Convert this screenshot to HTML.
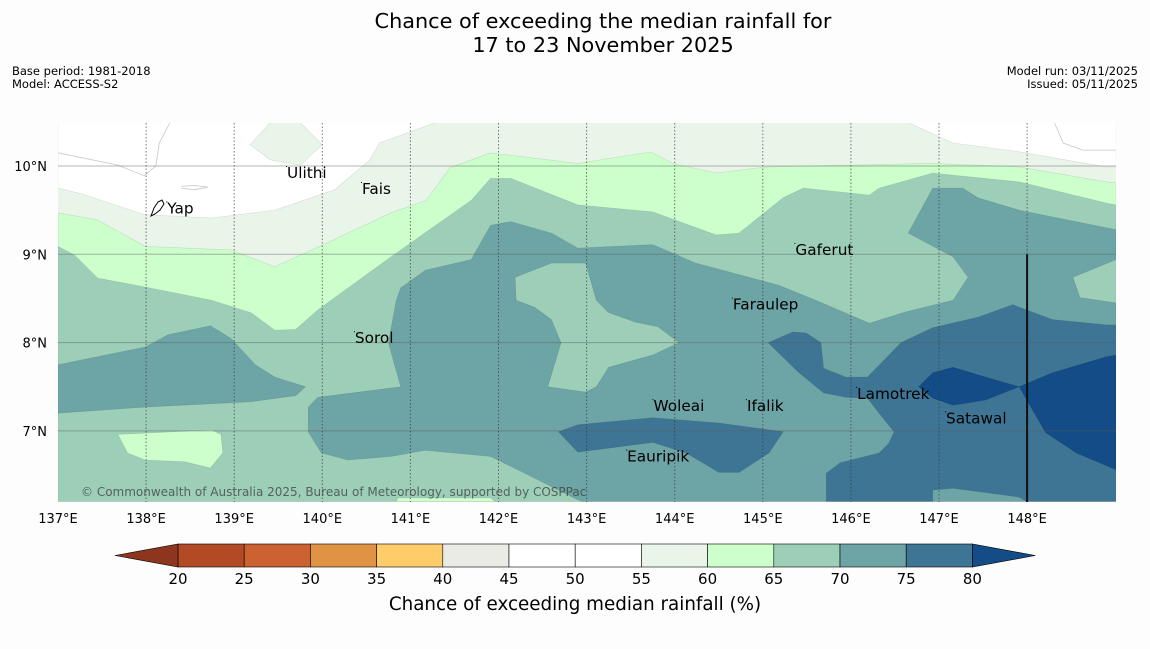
<!DOCTYPE html>
<html><head><meta charset="utf-8">
<style>
html,body{margin:0;padding:0;background:#fdfdfd;}
body{width:1150px;height:644px;overflow:hidden;font-family:"Liberation Sans","DejaVu Sans",sans-serif;}
svg text{font-family:"DejaVu Sans","Liberation Sans",sans-serif;}
</style></head>
<body>
<svg id="chart" width="1150" height="644" xmlns="http://www.w3.org/2000/svg">
<rect x="0" y="0" width="1150" height="644" fill="#fdfdfd"/>
<text x="603" y="28" font-size="20.8" text-anchor="middle" fill="#000">Chance of exceeding the median rainfall for</text>
<text x="603" y="52" font-size="20.8" text-anchor="middle" fill="#000">17 to 23 November 2025</text>
<text x="12" y="75" font-size="11.5">Base period: 1981-2018</text>
<text x="12" y="88" font-size="11.5">Model: ACCESS-S2</text>
<text x="1138" y="75" font-size="11.5" text-anchor="end">Model run: 03/11/2025</text>
<text x="1138" y="88" font-size="11.5" text-anchor="end">Issued: 05/11/2025</text>
<defs><clipPath id="mapclip"><rect x="58" y="123" width="1058" height="379"/></clipPath></defs>
<g id="map" clip-path="url(#mapclip)"></g>
<g id="overlay"></g>
<g id="cbar"></g>
<text x="575" y="610" font-size="18.3" text-anchor="middle">Chance of exceeding median rainfall (%)</text>
</svg>
<script>
const lonTicks = [137,138,139,140,141,142,143,144,145,146,147,148];
const latTicks = [7,8,9,10];
const cbarLevels = [20,25,30,35,40,45,50,55,60,65,70,75,80];
const cbarColors = ["#b34a26","#cc6232","#e09344","#fecd6a","#ebebe6","#ffffff","#ffffff","#eaf5ea","#ccffcc","#9dcfb8","#6da4a6","#3f7594"];
const cbarUnder = "#8e3520";
const cbarOver = "#134c86";

const whiteNW = [[137,10.49],[137,9.75],[137.25,9.69],[137.98,9.45],[138.74,9.41],[139.46,9.50],[140.14,9.73],[140.54,10.07],[140.65,10.26],[141.28,10.49]];
const greenPatchUlithi = [[139.18,10.24],[139.41,10.49],[139.75,10.49],[140.00,10.24],[139.75,10.01],[139.41,10.07]];
const whiteNE = [[146.65,10.49],[147.16,10.26],[147.92,10.16],[148.90,9.99],[149.01,9.99],[149.01,10.49]];
const lvl60 = [[137,9.47],[137.45,9.39],[137.99,9.09],[138.96,9.05],[139.46,8.86],[139.95,9.08],[140.78,9.47],[141.18,9.61],[141.45,9.98],[141.91,10.15],[142.90,10.03],[143.73,10.16],[143.98,10.03],[144.47,9.92],[145.04,9.99],[146.93,10.03],[147.91,9.99],[148.90,9.82],[149.01,9.81],[149.01,6.2],[137,6.2]];
const lvl65 = [[137,9.09],[137.19,8.99],[137.45,8.73],[137.99,8.63],[138.74,8.48],[139.19,8.34],[139.46,8.14],[139.70,8.15],[139.95,8.37],[140.78,8.97],[141.69,9.61],[141.91,9.86],[142.14,9.86],[142.90,9.56],[143.75,9.48],[144.47,9.22],[144.73,9.24],[145.23,9.64],[145.46,9.75],[146.21,9.67],[146.32,9.75],[146.93,9.92],[147.91,9.82],[148.90,9.58],[149.01,9.56],[149.01,6.2],[137,6.2]];
const hole60a = [[137.68,6.96],[138.74,7.01],[138.85,6.96],[138.87,6.75],[138.73,6.58],[138.44,6.65],[137.99,6.67],[137.79,6.75]];
const hole60b = [[140.84,6.2],[140.86,6.24],[141.91,6.24],[141.96,6.2]];
const lvl70a = [[137,7.75],[137.99,7.95],[138.25,8.09],[138.73,8.19],[138.96,8.05],[139.24,7.75],[139.46,7.61],[139.81,7.50],[139.70,7.40],[139.19,7.33],[137.99,7.27],[137,7.20]];
const lvl70b = [[139.84,6.99],[139.84,7.27],[139.95,7.38],[140.89,7.50],[140.75,8.00],[140.84,8.48],[140.89,8.62],[141.17,8.82],[141.69,8.94],[141.91,9.33],[142.14,9.37],[142.60,9.24],[142.90,9.07],[143.75,9.11],[144.24,8.90],[145.18,8.65],[145.60,8.48],[146.21,8.22],[146.63,8.35],[147.16,8.48],[147.33,8.74],[147.16,8.97],[146.65,9.24],[146.93,9.75],[147.27,9.75],[147.44,9.64],[147.91,9.50],[148.90,9.30],[149.01,9.28],[149.01,6.2],[142.95,6.2],[142.90,6.22],[142.30,6.52],[141.91,6.71],[141.17,6.78],[140.78,6.71],[140.29,6.67],[139.99,6.75]];
const hole65a = [[149.01,8.94],[148.52,8.74],[148.60,8.51],[149.01,8.45]];
const hole65b = [[142.19,8.74],[142.60,8.90],[142.99,8.90],[143.11,8.48],[143.25,8.34],[143.56,8.23],[143.81,8.18],[144.05,8.00],[143.75,7.86],[143.25,7.72],[143.11,7.50],[142.99,7.44],[142.56,7.50],[142.71,8.00],[142.60,8.26],[142.41,8.40],[142.20,8.48]];
const lvl75a = [[145.06,8.00],[145.34,8.12],[145.49,8.11],[145.66,8.00],[145.69,7.71],[145.94,7.61],[146.19,7.61],[146.57,8.00],[146.93,8.17],[147.45,8.29],[147.84,8.43],[147.91,8.40],[148.29,8.26],[148.90,8.20],[149.01,8.20],[149.01,6.2],[147.99,6.2],[147.91,6.25],[147.16,6.35],[146.93,6.33],[146.93,6.2],[145.72,6.2],[145.72,6.52],[145.88,6.64],[146.32,6.75],[146.43,6.86],[146.49,6.99],[146.32,7.20],[146.19,7.37],[145.94,7.38],[145.69,7.43],[145.41,7.66]];
const lvl75b = [[142.68,6.99],[142.90,7.07],[143.75,7.15],[144.50,7.09],[145.23,6.99],[145.07,6.75],[144.73,6.53],[144.50,6.53],[144.13,6.75],[143.75,6.87],[142.90,6.76]];
const lvl80 = [[146.77,7.50],[146.93,7.66],[147.16,7.72],[147.53,7.61],[147.91,7.50],[148.29,7.66],[148.90,7.84],[149.01,7.86],[149.01,6.56],[148.56,6.75],[148.21,6.98],[147.91,7.50],[147.53,7.35],[147.16,7.29],[146.93,7.37]];
const contourLineNW = [[137,10.15],[137.68,10.01],[137.98,9.89],[138.11,10.0],[138.15,10.26],[138.27,10.49]];
const contourLineNE = [[148.31,10.49],[148.41,10.26],[148.63,10.18],[149.01,10.18]];
const contourLineYap = [[138.40,9.77],[138.55,9.78],[138.70,9.76],[138.55,9.73],[138.40,9.75]];

const placeNames = ["Yap","Ulithi","Fais","Gaferut","Faraulep","Sorol","Woleai","Ifalik","Lamotrek","Satawal","Eauripik"];
const placeLon = [138.24,139.60,140.45,145.37,144.66,140.37,143.76,144.82,146.07,147.08,143.46];
const placeLat = [9.52,9.92,9.74,9.05,8.43,8.05,7.28,7.28,7.42,7.14,6.71];

const LON0=137, LAT0=10, PXLON=88.1, PXLAT=88.3, X0=58, Y10=166;
function xs(lon){return X0+(lon-LON0)*PXLON;}
function ys(lat){return Y10+(LAT0-lat)*PXLAT;}
const NS="http://www.w3.org/2000/svg";
const map=document.getElementById('map');
const ov=document.getElementById('overlay');
const cb=document.getElementById('cbar');
function mk(tag,attrs,parent){const e=document.createElementNS(NS,tag);for(const k in attrs)e.setAttribute(k,attrs[k]);parent.appendChild(e);return e;}
function ptsStr(r){return r.map(p=>xs(p[0]).toFixed(1)+','+ys(p[1]).toFixed(1)).join(' ');}
function poly(ring,fill,name){
  const e=mk('polygon',{points:ptsStr(ring),fill:fill,stroke:'rgba(0,0,0,0.12)','stroke-width':0.6},map);
  
  
}
function line(ring,name){
  const e=mk('polyline',{points:ptsStr(ring),fill:'none',stroke:'#c8c8c8','stroke-width':0.8},map);
  
  
}
const base=mk('rect',{x:58,y:123,width:1058,height:379,fill:cbarColors[7]},map);


poly(whiteNW,'#ffffff','contour-below-55-nw');
poly(greenPatchUlithi,cbarColors[7],'contour-55-60-ulithi');
poly(whiteNE,'#ffffff','contour-below-55-ne');
line(contourLineNW,'contour-line-nw');
line(contourLineNE,'contour-line-ne');
line(contourLineYap,'contour-line-yap');
poly(lvl60,cbarColors[8],'contour-60-65');
poly(lvl65,cbarColors[9],'contour-65-70');
poly(hole60a,cbarColors[8],'contour-60-65-island-sw');
poly(hole60b,cbarColors[8],'contour-60-65-island-s');
poly(lvl70a,cbarColors[10],'contour-70-75-west');
poly(lvl70b,cbarColors[10],'contour-70-75-main');
poly(hole65a,cbarColors[9],'contour-65-70-island-e');
poly(hole65b,cbarColors[9],'contour-65-70-island-c');
poly(lvl75a,cbarColors[11],'contour-75-80-east');
poly(lvl75b,cbarColors[11],'contour-75-80-eauripik');
poly(lvl80,cbarOver,'contour-above-80');

latTicks.forEach(v=>{
  const g=mk('line',{x1:58,x2:1116,y1:ys(v),y2:ys(v),stroke:'rgba(90,90,90,0.45)','stroke-width':1},ov);
  
  
  const t=mk('text',{x:47,y:ys(v)+5,'font-size':13,'text-anchor':'end'},ov);
  t.textContent=v+'°N';
  
  
});
lonTicks.forEach(v=>{
  if(v>LON0){
    const g=mk('line',{x1:xs(v),x2:xs(v),y1:123,y2:502,stroke:'rgba(60,60,60,0.7)','stroke-width':1,'stroke-dasharray':'1.5,2'},ov);
    
    
  }
  const t=mk('text',{x:xs(v),y:523,'font-size':13,'text-anchor':'middle'},ov);
  t.textContent=v+'°E';
  
  
});
const bl=mk('line',{x1:xs(148),x2:xs(148),y1:ys(9),y2:502,stroke:'#111','stroke-width':2},ov);


const yap=mk('path',{d:'M151,216 L154,208 L158,202 L162,200 L164,204 L160,210 L155,214 Z',fill:'none',stroke:'#000','stroke-width':1},ov);


placeNames.forEach((n,i)=>{
  const t=mk('text',{x:xs(placeLon[i]),y:ys(placeLat[i])+5,'font-size':15.3},ov);
  t.textContent=n;
  
  
  const d=mk('rect',{x:xs(placeLon[i])-1,y:ys(placeLat[i])-7,width:1,height:1,fill:'#000'},ov);
  
  
});
const cr=mk('text',{x:81,y:496,'font-size':12,fill:'rgba(60,60,60,0.75)'},ov);
cr.textContent='© Commonwealth of Australia 2025, Bureau of Meteorology, supported by COSPPac';



const CB0=178, CBW=66.2, CBY=544, CBH=23;
function cx(v){return CB0+(v-cbarLevels[0])/5*CBW;}
for(let i=0;i<cbarColors.length;i++){
  const r=mk('rect',{x:cx(cbarLevels[i]),y:CBY,width:CBW,height:CBH,fill:cbarColors[i],stroke:'#000','stroke-width':0.6},cb);
  
  
}
const lo=cx(cbarLevels[0]), hi=cx(cbarLevels[cbarLevels.length-1]);
const tu=mk('polygon',{points:`${lo},${CBY} ${lo},${CBY+CBH} ${lo-63},${CBY+CBH/2}`,fill:cbarUnder,stroke:'#000','stroke-width':0.6},cb);


const to=mk('polygon',{points:`${hi},${CBY} ${hi},${CBY+CBH} ${hi+63},${CBY+CBH/2}`,fill:cbarOver,stroke:'#000','stroke-width':0.6},cb);


cbarLevels.forEach(v=>{
  const t=mk('text',{x:cx(v),y:584,'font-size':15,'text-anchor':'middle'},cb);
  t.textContent=v;
  
  
});
</script>
</body></html>
